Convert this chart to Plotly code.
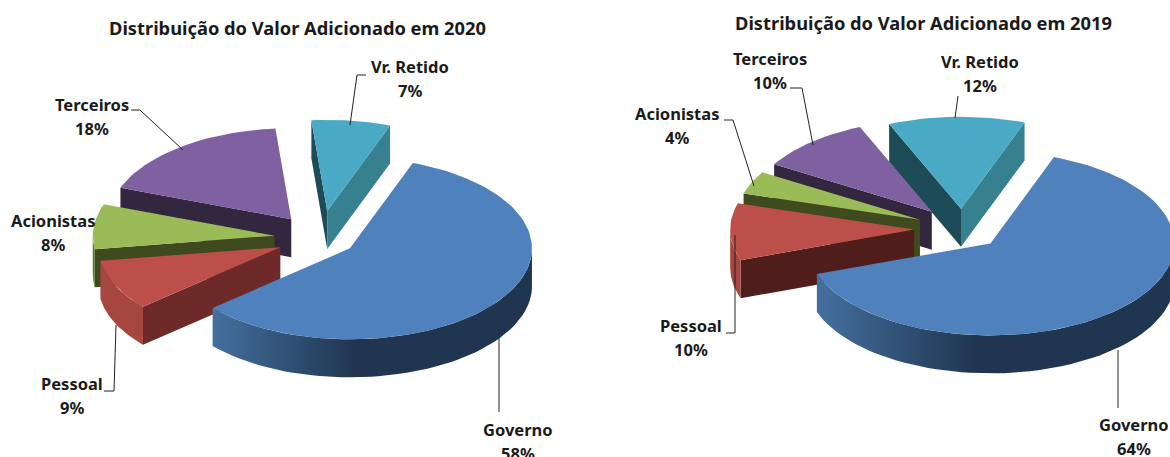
import math
import plotly.graph_objects as go

categories = ["Vr. Retido", "Governo", "Pessoal", "Acionistas", "Terceiros"]
values_2020 = [7, 58, 9, 8, 18]
values_2019 = [12, 64, 10, 4, 10]
title_2020 = "Distribuição do Valor Adicionado em 2020"
title_2019 = "Distribuição do Valor Adicionado em 2019"

top_colors = ["#4aaac5", "#4f81bd", "#bd4f4a", "#9bbb59", "#7f60a0"]
arc_colors = ["#36808f", "#1f3550", "#a5473f", "#5f7a30", "#33263f"]
wall_2020 = ["#1d4b57", "#1f3550", "#6e2a28", "#3f4a1e", "#33263f"]
wall_2019 = ["#1d4b57", "#1f3550", "#4f1d1b", "#3f4a1e", "#33263f"]
wall2_color = "#36808f"
draw_order = [0, 4, 3, 2, 1]

FONT = "Noto Sans"
fig = go.Figure()


def ell(cx, cy, rx, ry, t):
    r = math.radians(t)
    return cx + rx * math.sin(r), cy - ry * math.cos(r)


def poly(xs, ys, color=None, gradient=None, name=""):
    kw = dict(fillgradient=gradient) if gradient else dict(fillcolor=color)
    fig.add_trace(go.Scatter(x=xs, y=ys, mode="lines", fill="toself", line=dict(width=0),
                             hoverinfo="skip", showlegend=False, name=name, **kw))


def pie3d(values, start, centre, radii, depth, explode, walls):
    cx, cy = centre
    rx, ry = radii
    total = sum(values)
    angles = []
    a = start
    for v in values:
        angles.append((a, a + v / total * 360))
        a += v / total * 360
    for i in draw_order:
        t0, t1 = angles[i]
        mid = (t0 + t1) / 2
        ax = cx + explode[i] * rx * math.sin(math.radians(mid))
        ay = cy - explode[i] * ry * math.cos(math.radians(mid))
        # radial walls: only the ones facing the viewer
        for t, sgn, col in ((t0, 1, walls[i]), (t1, -1, wall2_color if i == 0 else walls[i])):
            px, py = ell(ax, ay, rx, ry, t)
            qx, qy = ell(ax, ay, rx, ry, t + sgn * 4)
            ex, ey = px - ax, py - ay
            cross = ex * (qy - ay) - ey * (qx - ax)
            nx, ny = ey, -ex            # dot with interior = -cross
            if cross < 0:
                nx, ny = -nx, -ny
            if ny > 0:
                poly([ax, px, px, ax], [ay, py, py + depth, ay + depth], col, name=categories[i])
        # outer curved wall, front half only
        lo, hi = max(t0 % 360, 90), min(t0 % 360 + (t1 - t0), 270)
        if lo < hi:
            n = 60
            ts = [lo + (hi - lo) * k / n for k in range(n + 1)]
            upper = [ell(ax, ay, rx, ry, t) for t in ts]
            xs = [p[0] for p in upper] + [p[0] for p in reversed(upper)]
            ys = [p[1] for p in upper] + [p[1] + depth for p in reversed(upper)]
            if i == 1:
                grad = dict(type="horizontal",
                            colorscale=[[0, "#44709f"], [0.45, "#1f3550"], [1, "#1f3550"]])
                poly(xs, ys, gradient=grad, name=categories[i])
            else:
                poly(xs, ys, arc_colors[i], name=categories[i])
        n = max(8, int((t1 - t0) / 2))
        arc = [ell(ax, ay, rx, ry, t0 + (t1 - t0) * k / n) for k in range(n + 1)]
        poly([ax] + [p[0] for p in arc] + [ax], [ay] + [p[1] for p in arc] + [ay],
             top_colors[i], name=categories[i])


pie3d(values_2020, -5, (320, 238), (182, 91), 38, [0.30, 0.20, 0.24, 0.25, 0.26], wall_2020)
pie3d(values_2019, -23, (962, 229), (184, 92), 38, [0.22, 0.22, 0.26, 0.25, 0.25], wall_2019)

leaders = [
    ([350, 357, 366], [125, 75, 75]),
    ([183, 140, 131], [150, 110, 110]),
    ([116, 114, 104], [325, 391, 391]),
    ([499, 499], [338, 412]),
    ([955, 958], [118, 96]),
    ([813, 802, 790], [145, 88, 88]),
    ([754, 733, 724], [186, 120, 120]),
    ([735, 735, 726], [235, 333, 333]),
    ([1118, 1118], [350, 408]),
]
for xs, ys in leaders:
    fig.add_trace(go.Scatter(x=xs, y=ys, mode="lines", line=dict(color="#222222", width=1),
                             hoverinfo="skip", showlegend=False))

label_pos_2020 = [(410, 78), (518, 441), (72, 395), (53, 232), (92, 116)]
label_pos_2019 = [(980, 73), (1134, 436), (691, 337), (677, 125), (770, 70)]
ann = []
for vals, pos in ((values_2020, label_pos_2020), (values_2019, label_pos_2019)):
    for c, v, (x, y) in zip(categories, vals, pos):
        for txt, yy in ((c, y - 12), (f"{v}%", y + 12)):
            ann.append(dict(x=x, y=yy, xref="x", yref="y", showarrow=False,
                            text=f"<b>{txt}</b>",
                            font=dict(family=FONT, size=16.5, color="#1a1a1a")))
for t, x, y in ((title_2020, 297, 27), (title_2019, 923, 22)):
    ann.append(dict(x=x, y=y, xref="x", yref="y", showarrow=False, text=f"<b>{t}</b>",
                    font=dict(family=FONT, size=18.3, color="#1a1a1a")))

fig.update_layout(
    width=1170, height=457, margin=dict(l=0, r=0, t=0, b=0),
    paper_bgcolor="white", plot_bgcolor="white", showlegend=False,
    xaxis=dict(range=[0, 1170], visible=False, fixedrange=True),
    yaxis=dict(range=[457, 0], visible=False, fixedrange=True),
    annotations=ann,
)
fig.write_html("out.html", config=dict(displayModeBar=False),
               post_script="document.body.style.margin='0';document.documentElement.style.overflow='hidden';")
